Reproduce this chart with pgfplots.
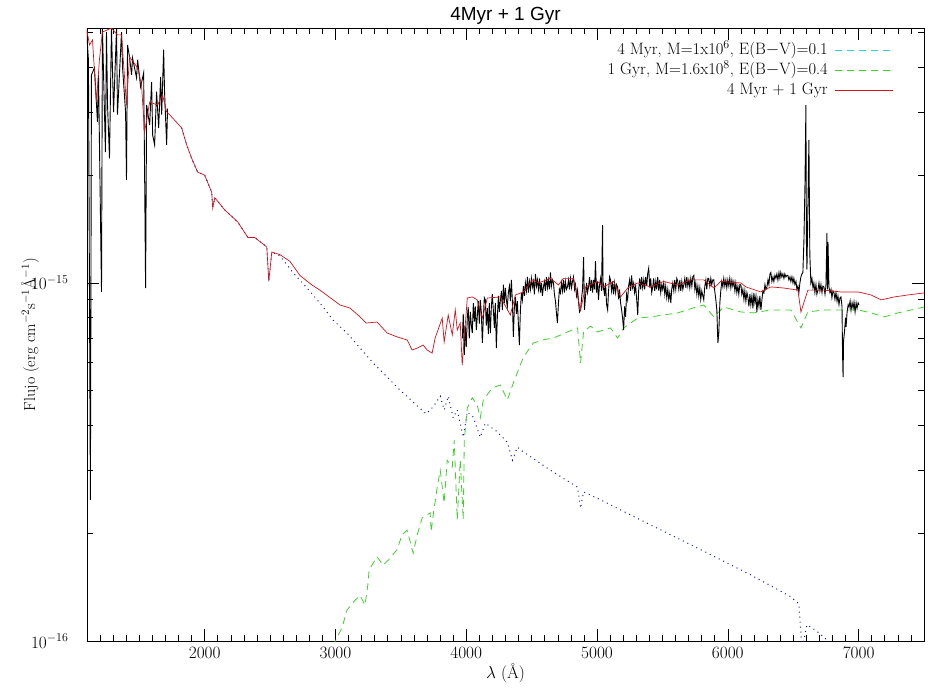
\documentclass[border=0pt]{standalone}
\usepackage{fontspec}
\usepackage{pgfplots}
\pgfplotsset{compat=1.18}
\newfontfamily\titlefont{Liberation Sans}
\definecolor{sumred}{RGB}{210,20,30}
\definecolor{youngblue}{RGB}{20,20,190}
\definecolor{oldgreen}{RGB}{60,210,40}
\definecolor{legcyan}{RGB}{40,210,210}

\begin{document}
\begin{tikzpicture}
  \begin{axis}[
      scale only axis,
      width=837pt, height=613pt,
      xmin=1100, xmax=7500,
      ymode=log,
      ymin=1e-16, ymax=5.15e-15,
      xtick={2000,3000,4000,5000,6000,7000},
      minor xtick={1100,1200,...,7500},
      ytick={1e-16,1e-15},
      minor ytick={2e-16,3e-16,4e-16,5e-16,6e-16,7e-16,8e-16,9e-16,2e-15,3e-15,4e-15,5e-15},
      tick align=inside,
      major tick length=12pt,
      minor tick length=6pt,
      scaled x ticks=false,
      xticklabel style={/pgf/number format/1000 sep={}, yshift=-3pt},
      yticklabel style={xshift=-15pt},
      tick label style={font=\fontsize{17}{19}\selectfont},
      axis line style={line width=0.8pt},
      every tick/.style={black, line width=0.6pt},
      title={\titlefont 4Myr + 1 Gyr},
      title style={font=\fontsize{19}{21}\selectfont, yshift=-6pt},
      xlabel={$\lambda$ (Å)},
      xlabel style={font=\fontsize{17}{19}\selectfont, yshift=2pt},
      ylabel={Flujo (erg cm$^{-2}$s$^{-1}$Å$^{-1}$)},
      ylabel style={font=\fontsize{16}{18}\selectfont, at={(rel axis cs:0,0.5)}, anchor=center, yshift=57pt},
    ]
    % 4 Myr model (blue dotted)
    \addplot[youngblue, line width=1pt, dash pattern=on 1pt off 4pt] table {
      x y
      1824 2.71e-15
      1862 2.43e-15
      1900 2.23e-15
      1946 2.04e-15
      2000 2.00e-15
      2054 1.79e-15
      2061 1.62e-15
      2077 1.73e-15
      2153 1.60e-15
      2253 1.48e-15
      2330 1.34e-15
      2383 1.34e-15
      2475 1.26e-15
      2490 1.01e-15
      2513 1.22e-15
      2575 1.19e-15
      2674 1.07e-15
      2782 9.68e-16
      2881 8.79e-16
      2981 7.88e-16
      3088 7.25e-16
      3188 6.58e-16
      3287 5.98e-16
      3395 5.46e-16
      3494 5.02e-16
      3594 4.65e-16
      3693 4.31e-16
      3747 4.51e-16
      3801 4.83e-16
      3831 4.42e-16
      3862 4.83e-16
      3900 4.20e-16
      3931 4.42e-16
      3977 3.71e-16
      4008 4.36e-16
      4054 4.22e-16
      4107 3.71e-16
      4146 4.06e-16
      4238 3.84e-16
      4314 3.59e-16
      4353 3.20e-16
      4391 3.48e-16
      4414 3.42e-16
      4644 3.00e-16
      4851 2.69e-16
      4874 2.35e-16
      4897 2.61e-16
      5027 2.48e-16
      5410 2.11e-16
      5793 1.80e-16
      6176 1.53e-16
      6482 1.33e-16
      6543 1.27e-16
      6567 0.95e-16
      6605 1.11e-16
      6674 1.07e-16
      6812 0.97e-16
    };

    % 1 Gyr model (green dashed)
    \addplot[oldgreen, line width=0.8pt, dash pattern=on 7pt off 5pt] table {
      x y
      2981 0.97e-16
      3050 1.09e-16
      3088 1.22e-16
      3149 1.30e-16
      3188 1.34e-16
      3226 1.26e-16
      3249 1.45e-16
      3257 1.58e-16
      3318 1.72e-16
      3364 1.63e-16
      3402 1.68e-16
      3471 1.80e-16
      3509 1.98e-16
      3548 2.04e-16
      3594 1.76e-16
      3625 1.98e-16
      3663 2.21e-16
      3724 2.28e-16
      3732 2.02e-16
      3747 2.25e-16
      3778 2.69e-16
      3801 3.00e-16
      3831 2.43e-16
      3854 3.20e-16
      3893 3.06e-16
      3908 3.64e-16
      3931 2.18e-16
      3954 3.20e-16
      3977 2.18e-16
      3985 3.64e-16
      4008 4.48e-16
      4046 4.78e-16
      4084 4.56e-16
      4107 4.20e-16
      4130 4.71e-16
      4199 5.09e-16
      4261 5.19e-16
      4314 4.71e-16
      4360 5.26e-16
      4437 6.21e-16
      4513 6.80e-16
      4582 6.93e-16
      4667 7.02e-16
      4774 7.30e-16
      4851 7.49e-16
      4874 5.98e-16
      4897 7.30e-16
      4950 7.58e-16
      5004 7.30e-16
      5050 7.39e-16
      5103 7.49e-16
      5157 7.02e-16
      5203 7.49e-16
      5257 7.73e-16
      5311 7.98e-16
      5410 8.04e-16
      5510 8.14e-16
      5617 8.25e-16
      5732 8.51e-16
      5816 8.68e-16
      5893 8.04e-16
      5969 8.57e-16
      6100 8.30e-16
      6199 8.25e-16
      6329 8.41e-16
      6482 8.41e-16
      6559 7.49e-16
      6612 8.30e-16
      6735 8.41e-16
      6865 8.41e-16
      6996 8.41e-16
      7095 8.25e-16
      7195 8.04e-16
      7302 8.25e-16
      7402 8.41e-16
      7501 8.57e-16
    };

    % observed spectrum, UV part
    \addplot[black, line width=0.9pt] table {
      x y
      1096 5.09e-15
      1111 4.20e-15
      1126 2.48e-16
      1134 3.81e-15
      1157 3.99e-15
      1180 2.82e-15
      1188 3.81e-15
      1211 9.44e-16
      1218 5.15e-15
      1241 2.32e-15
      1249 5.02e-15
      1257 3.14e-15
      1272 2.23e-15
      1287 5.15e-15
      1303 3.00e-15
      1326 5.15e-15
      1333 2.95e-15
      1364 5.02e-15
      1372 3.99e-15
      1395 3.00e-15
      1402 1.94e-15
      1410 4.62e-15
      1425 4.28e-15
      1441 3.81e-15
      1448 4.25e-15
      1479 3.74e-15
      1487 4.20e-15
      1510 3.53e-15
      1533 3.86e-15
      1540 2.14e-15
      1548 9.68e-16
      1556 3.14e-15
      1579 2.76e-15
      1594 3.64e-15
      1602 2.59e-15
      1617 2.43e-15
      1632 3.42e-15
      1648 2.71e-15
      1663 3.76e-15
      1671 2.95e-15
      1686 4.48e-15
      1693 3.42e-15
      1709 2.43e-15
      1716 3.07e-15
    };

    % observed spectrum, optical part
    \addplot[black, line width=0.9pt] table {
      x y
      3970 7.0e-16
      3977 8.2e-16
      3985 6.3e-16
      3992 7.6e-16
      4000 6.62e-16
      4008 8.0e-16
      4015 8.57e-16
      4023 7.0e-16
      4031 8.3e-16
      4039 7.6e-16
      4046 7.25e-16
      4054 8.79e-16
      4062 7.8e-16
      4069 8.6e-16
      4077 7.4e-16
      4084 8.04e-16
      4092 8.9e-16
      4100 7.7e-16
      4107 8.97e-16
      4115 8.3e-16
      4123 6.80e-16
      4130 7.9e-16
      4138 9.1e-16
      4146 8.97e-16
      4153 7.6e-16
      4161 8.5e-16
      4169 7.2e-16
      4176 8.8e-16
      4184 7.25e-16
      4192 8.6e-16
      4199 9.3e-16
      4207 8.41e-16
      4215 7.5e-16
      4222 8.8e-16
      4230 6.58e-16
      4238 8.1e-16
      4246 9.2e-16
      4253 8.3e-16
      4261 8.97e-16
      4269 9.5e-16
      4276 8.4e-16
      4284 9.9e-16
      4291 8.8e-16
      4299 9.68e-16
      4306 9.0e-16
      4314 8.57e-16
      4322 9.4e-16
      4330 9.8e-16
      4337 8.9e-16
      4345 1.02e-15
      4353 8.8e-16
      4360 7.07e-16
      4368 8.6e-16
      4376 9.14e-16
      4383 8.2e-16
      4391 8.9e-16
      4399 7.6e-16
      4406 6.71e-16
      4414 8.4e-16
      4422 9.4e-16
      4429 8.97e-16
      4437 9.8e-16
      4445 9.2e-16
      4452 1.00e-15
      4460 9.5e-16
      4468 1.04e-15
      4475 9.4e-16
      4483 1.01e-15
      4491 9.6e-16
      4498 1.03e-15
      4506 9.75e-16
      4514 1.01e-15
      4521 9.3e-16
      4529 1.06e-15
      4537 9.8e-16
      4544 1.02e-15
      4552 9.6e-16
      4560 1.03e-15
      4567 9.4e-16
      4575 1.00e-15
      4582 9.2e-16
      4590 9.75e-16
      4598 1.01e-15
      4605 9.5e-16
      4613 1.04e-15
      4621 9.7e-16
      4628 1.02e-15
      4636 9.6e-16
      4644 1.07e-15
      4651 9.8e-16
      4659 1.02e-15
      4667 1.00e-15
      4674 9.3e-16
      4682 8.9e-16
      4690 8.2e-16
      4697 7.73e-16
      4705 8.8e-16
      4712 9.6e-16
      4720 9.38e-16
      4728 1.00e-15
      4736 9.5e-16
      4743 1.02e-15
      4751 9.4e-16
      4758 1.01e-15
      4766 9.6e-16
      4774 9.75e-16
      4782 1.02e-15
      4789 9.6e-16
      4797 1.03e-15
      4805 9.7e-16
      4812 1.01e-15
      4820 1.04e-15
      4828 9.6e-16
      4835 9.9e-16
      4843 9.2e-16
      4851 9.55e-16
      4858 8.9e-16
      4866 8.3e-16
      4874 8.41e-16
      4881 9.0e-16
      4889 9.6e-16
      4897 1.18e-15
      4904 8.41e-16
      4912 9.2e-16
      4920 1.00e-15
      4927 9.4e-16
      4935 9.75e-16
      4943 1.04e-15
      4950 9.5e-16
      4958 1.02e-15
      4966 9.4e-16
      4973 1.02e-15
      4981 9.6e-16
      4988 1.15e-15
      4996 9.4e-16
      5004 1.01e-15
      5011 8.97e-16
      5019 9.9e-16
      5027 1.03e-15
      5034 9.5e-16
      5042 1.45e-15
      5046 9.55e-16
      5050 9.8e-16
      5058 9.2e-16
      5065 1.00e-15
      5073 8.7e-16
      5081 8.41e-16
      5088 9.5e-16
      5096 1.04e-15
      5103 1.02e-15
      5111 9.5e-16
      5119 1.01e-15
      5126 9.3e-16
      5134 1.00e-15
      5142 9.4e-16
      5149 9.9e-16
      5157 9.75e-16
      5165 9.0e-16
      5172 9.6e-16
      5180 8.8e-16
      5188 8.4e-16
      5195 8.0e-16
      5203 7.39e-16
      5211 8.6e-16
      5218 8.04e-16
      5226 9.3e-16
      5234 8.97e-16
      5241 9.8e-16
      5249 1.02e-15
      5257 9.5e-16
      5264 1.05e-15
      5272 9.7e-16
      5280 1.00e-15
      5287 9.4e-16
      5295 9.8e-16
      5303 9.0e-16
      5311 8.14e-16
      5318 9.5e-16
      5326 1.03e-15
      5334 9.6e-16
      5341 1.04e-15
      5349 9.7e-16
      5357 1.02e-15
      5364 9.6e-16
      5372 1.04e-15
      5380 9.8e-16
      5387 1.06e-15
      5395 1.10e-15
      5403 9.7e-16
      5410 1.03e-15
      5418 9.4e-16
      5426 9.75e-16
      5433 1.03e-15
      5441 9.5e-16
      5449 1.01e-15
      5456 9.6e-16
      5464 1.04e-15
      5472 9.5e-16
      5479 1.02e-15
      5487 9.4e-16
      5495 9.9e-16
      5502 9.6e-16
      5510 1.00e-15
      5518 9.3e-16
      5525 9.8e-16
      5533 9.1e-16
      5541 9.6e-16
      5548 9.0e-16
      5556 9.4e-16
      5564 8.79e-16
      5571 9.6e-16
      5579 1.00e-15
      5587 9.5e-16
      5594 1.02e-15
      5602 9.6e-16
      5610 1.03e-15
      5617 1.01e-15
      5625 9.6e-16
      5633 1.02e-15
      5640 9.5e-16
      5648 1.01e-15
      5656 9.6e-16
      5663 9.87e-16
      5671 1.03e-15
      5679 9.7e-16
      5686 1.04e-15
      5694 9.8e-16
      5702 1.02e-15
      5709 9.7e-16
      5717 1.03e-15
      5725 9.8e-16
      5732 1.04e-15
      5740 1.05e-15
      5748 9.6e-16
      5755 1.00e-15
      5763 9.3e-16
      5771 9.8e-16
      5778 9.2e-16
      5786 9.7e-16
      5793 9.0e-16
      5801 9.5e-16
      5809 9.2e-16
      5816 8.97e-16
      5824 9.8e-16
      5832 1.02e-15
      5839 9.6e-16
      5847 1.03e-15
      5854 1.03e-15
      5862 9.8e-16
      5870 1.03e-15
      5877 9.9e-16
      5885 1.02e-15
      5893 1.02e-15
      5900 9.5e-16
      5908 9.0e-16
      5916 8.4e-16
      5924 6.8e-16
      5931 7.25e-16
      5939 8.8e-16
      5946 9.5e-16
      5954 1.01e-15
      5962 9.75e-16
      5969 1.03e-15
      5977 9.8e-16
      5985 1.02e-15
      5992 9.7e-16
      6000 1.02e-15
      6008 9.8e-16
      6015 1.03e-15
      6023 9.7e-16
      6031 1.02e-15
      6038 9.8e-16
      6046 1.01e-15
      6054 9.5e-16
      6061 1.00e-15
      6069 9.4e-16
      6077 9.8e-16
      6084 9.3e-16
      6092 9.9e-16
      6100 9.87e-16
      6107 9.3e-16
      6115 9.6e-16
      6123 9.0e-16
      6130 9.5e-16
      6138 8.9e-16
      6146 9.4e-16
      6153 9.14e-16
      6161 8.6e-16
      6169 9.3e-16
      6176 8.7e-16
      6184 9.2e-16
      6192 8.5e-16
      6199 9.38e-16
      6207 8.8e-16
      6215 9.2e-16
      6222 8.3e-16
      6230 9.0e-16
      6238 8.6e-16
      6245 9.2e-16
      6253 8.41e-16
      6261 9.0e-16
      6268 9.5e-16
      6276 9.38e-16
      6284 9.9e-16
      6291 9.6e-16
      6299 9.75e-16
      6307 1.02e-15
      6314 9.9e-16
      6322 1.06e-15
      6329 1.07e-15
      6337 1.01e-15
      6345 1.04e-15
      6352 1.01e-15
      6360 1.05e-15
      6368 1.03e-15
      6375 1.06e-15
      6383 1.02e-15
      6391 1.07e-15
      6398 1.03e-15
      6405 1.07e-15
      6413 1.04e-15
      6421 1.06e-15
      6429 1.03e-15
      6436 1.06e-15
      6444 1.04e-15
      6452 1.05e-15
      6459 1.05e-15
      6467 1.02e-15
      6475 1.04e-15
      6482 1.01e-15
      6490 1.04e-15
      6498 1.00e-15
      6505 1.03e-15
      6513 9.9e-16
      6521 1.01e-15
      6528 9.6e-16
      6536 9.8e-16
      6543 9.38e-16
      6551 1.00e-15
      6559 1.04e-15
      6567 1.06e-15
      6574 1.07e-15
      6582 1.32e-15
      6590 1.9e-15
      6597 3.14e-15
      6601 1.3e-15
      6605 1.09e-15
      6612 1.6e-15
      6620 2.51e-15
      6627 1.2e-15
      6635 1.00e-15
      6643 1.03e-15
      6651 9.7e-16
      6658 1.00e-15
      6666 9.4e-16
      6674 9.9e-16
      6681 9.3e-16
      6689 9.55e-16
      6697 1.00e-15
      6704 9.5e-16
      6712 9.9e-16
      6720 9.4e-16
      6727 9.8e-16
      6735 9.75e-16
      6743 9.3e-16
      6750 9.8e-16
      6758 1.38e-15
      6762 9.6e-16
      6766 1.30e-15
      6773 9.75e-16
      6781 9.4e-16
      6789 9.6e-16
      6796 9.1e-16
      6804 9.5e-16
      6812 9.38e-16
      6819 9.0e-16
      6827 9.4e-16
      6835 8.9e-16
      6842 9.2e-16
      6850 8.7e-16
      6858 9.1e-16
      6865 9.14e-16
      6873 8.6e-16
      6877 6.4e-16
      6881 5.46e-16
      6885 6.9e-16
      6892 7.3e-16
      6900 8.0e-16
      6904 7.54e-16
      6912 8.3e-16
      6920 8.7e-16
      6927 8.57e-16
      6935 8.9e-16
      6942 8.4e-16
      6950 8.8e-16
      6958 8.5e-16
      6965 8.85e-16
      6973 8.3e-16
      6981 8.8e-16
      6988 8.5e-16
      6996 8.8e-16
      7003 8.68e-16
    };

    % 4 Myr + 1 Gyr (red)
    \addplot[sumred, line width=0.7pt] table {
      x y
      1096 5.15e-15
      1119 4.62e-15
      1142 4.77e-15
      1172 3.20e-15
      1195 4.20e-15
      1218 5.02e-15
      1287 5.15e-15
      1333 4.93e-15
      1364 4.93e-15
      1402 3.14e-15
      1425 4.28e-15
      1487 3.99e-15
      1517 3.57e-15
      1540 2.64e-15
      1579 3.20e-15
      1640 3.14e-15
      1678 3.35e-15
      1709 3.00e-15
      1732 2.95e-15
      1824 2.71e-15
      1862 2.43e-15
      1900 2.23e-15
      1946 2.04e-15
      2000 2.00e-15
      2054 1.79e-15
      2061 1.62e-15
      2077 1.73e-15
      2153 1.60e-15
      2253 1.48e-15
      2330 1.34e-15
      2383 1.34e-15
      2475 1.26e-15
      2490 1.01e-15
      2513 1.22e-15
      2575 1.20e-15
      2651 1.15e-15
      2728 1.05e-15
      2820 9.87e-16
      2881 9.55e-16
      3035 8.68e-16
      3111 8.51e-16
      3188 8.04e-16
      3234 7.73e-16
      3318 7.78e-16
      3395 7.25e-16
      3471 7.07e-16
      3548 6.93e-16
      3586 6.50e-16
      3625 6.58e-16
      3670 6.71e-16
      3701 6.50e-16
      3739 6.37e-16
      3762 7.02e-16
      3816 7.98e-16
      3831 6.84e-16
      3862 8.14e-16
      3893 7.16e-16
      3916 8.41e-16
      3931 7.39e-16
      3954 7.73e-16
      3969 5.90e-16
      4008 9.08e-16
      4046 9.14e-16
      4084 8.97e-16
      4123 7.98e-16
      4161 9.08e-16
      4261 9.14e-16
      4337 8.14e-16
      4376 9.26e-16
      4437 9.44e-16
      4506 1.02e-15
      4552 1.00e-15
      4644 1.03e-15
      4705 9.87e-16
      4743 1.03e-15
      4820 1.03e-15
      4874 8.41e-16
      4912 9.75e-16
      5004 1.01e-15
      5050 9.75e-16
      5127 1.01e-15
      5180 9.14e-16
      5234 9.68e-16
      5311 1.00e-15
      5410 9.75e-16
      5510 1.01e-15
      5617 9.87e-16
      5716 1.02e-15
      5816 1.02e-15
      5893 9.68e-16
      5946 1.01e-15
      6100 1.00e-15
      6138 9.75e-16
      6253 9.44e-16
      6329 9.75e-16
      6429 9.68e-16
      6536 9.55e-16
      6559 8.30e-16
      6612 9.55e-16
      6735 9.55e-16
      6865 9.44e-16
      6996 9.44e-16
      7095 9.26e-16
      7172 8.97e-16
      7271 9.14e-16
      7379 9.26e-16
      7501 9.38e-16
    };
  \end{axis}
  % legend, drawn by hand to the right of its texts
  \begin{scope}[shift={(current axis.north east)}, every node/.style={anchor=east, inner sep=0pt, font=\fontsize{16.5}{18}\selectfont}]
    \draw[legcyan, line width=0.8pt, dash pattern=on 7pt off 5pt] (-89pt,-22pt) -- (-31pt,-22pt);
    \node at (-96pt,-22pt) {4 Myr, M=1x10$^{6}$, E(B$-$V)=0.1};
    \draw[oldgreen, line width=0.8pt, dash pattern=on 7pt off 5pt] (-89pt,-42pt) -- (-31pt,-42pt);
    \node at (-96pt,-42pt) {1 Gyr, M=1.6x10$^{8}$, E(B$-$V)=0.4};
    \draw[sumred, line width=0.8pt] (-89pt,-62pt) -- (-31pt,-62pt);
    \node at (-96pt,-62pt) {4 Myr + 1 Gyr};
  \end{scope}
  \pgfresetboundingbox
  \path[use as bounding box] ([xshift=-87pt,yshift=-58pt]current axis.south west)
    rectangle ([xshift=25pt,yshift=28pt]current axis.north east);
\end{tikzpicture}
\end{document}
